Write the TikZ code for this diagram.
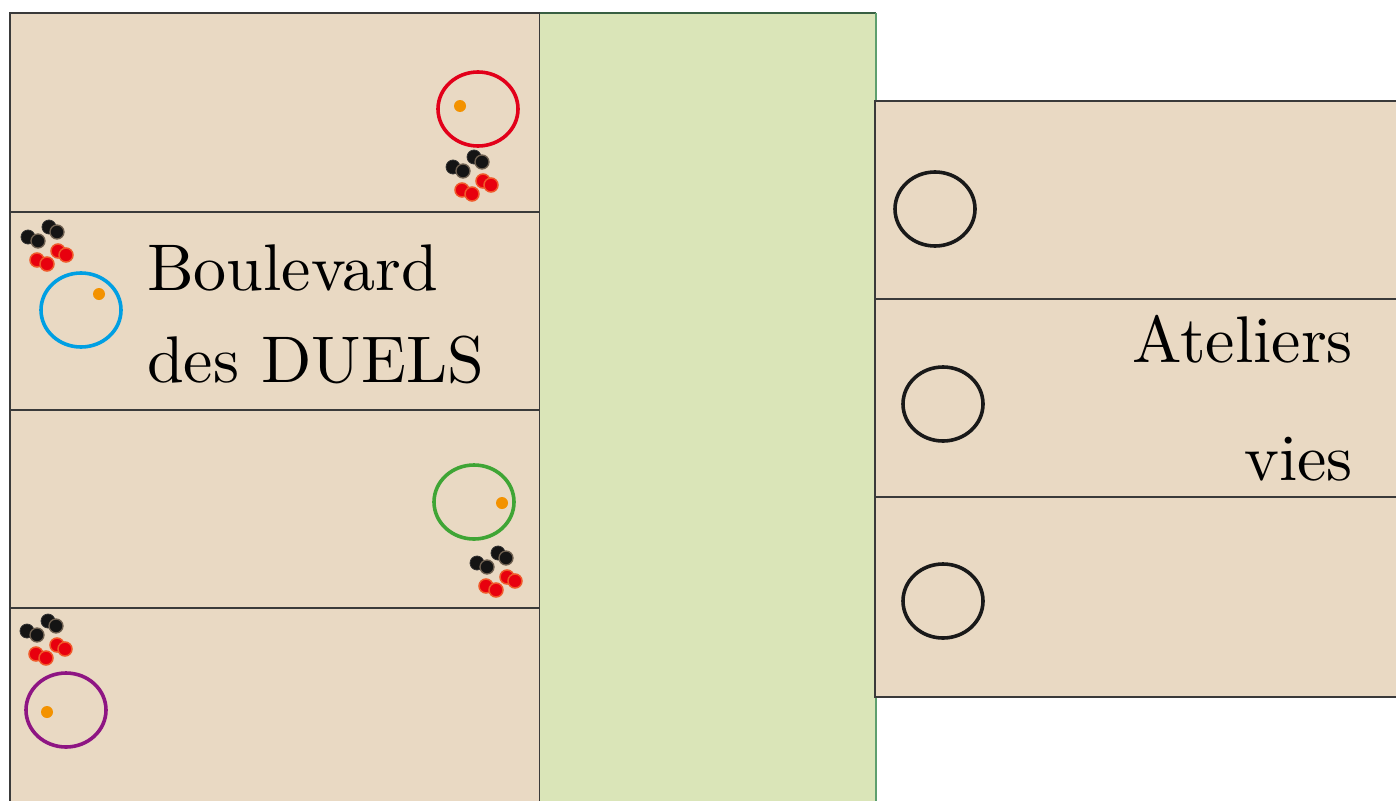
\documentclass[tikz,border=0pt]{standalone}
\usepackage{fontspec}
\newfontfamily\lmten{lmroman10-regular.otf}
\definecolor{beige}{HTML}{E9D9C3}
\definecolor{lawn}{HTML}{DAE5B8}
\definecolor{lawnedge}{HTML}{5E9F6E}
\definecolor{edgegray}{HTML}{3A3A3A}
\definecolor{cred}{HTML}{E2001A}
\definecolor{cblue}{HTML}{009FE3}
\definecolor{cgreen}{HTML}{3FA535}
\definecolor{cpurple}{HTML}{8E1583}
\definecolor{corange}{HTML}{F39200}
\definecolor{ballred}{HTML}{E8000E}
\definecolor{ballrim}{HTML}{F0582A}
\definecolor{blackrim}{HTML}{6E6050}
\tikzset{
  plot/.style={fill=beige, draw=edgegray, line width=1.3pt},
  ring/.style={line width=3.6pt},
  jack/.style={fill=corange, draw=none},
  blackball/.style={fill=black!92, draw=blackrim, line width=1.3pt},
  blackback/.style={fill=black!92, draw=black!80, line width=0.8pt},
  redball/.style={fill=ballred, draw=ballrim, line width=1.5pt},
  label/.style={inner sep=0pt, font=\lmten\fontsize{66}{80}\selectfont},
  pics/boules/.style={code={
    \draw[blackback] (0,0) circle (7);
    \draw[blackball] (10,4) circle (7);
    \draw[blackback] (21,-10) circle (7);
    \draw[blackball] (29,-5) circle (7);
    \draw[redball] (9,23) circle (7);
    \draw[redball] (19,27) circle (7);
    \draw[redball] (30,14) circle (7);
    \draw[redball] (38,18) circle (7);
  }}
}
\begin{document}
\begin{tikzpicture}[x=1pt,y=-1pt]
\useasboundingbox (0,0) rectangle (1396,800);
% left plots
\draw[plot] (10,13) rectangle (540,212);
\draw[plot] (10,212) rectangle (540,410);
\draw[plot] (10,410) rectangle (540,608);
\draw[plot] (10,608) rectangle (540,810);
% green strip
\fill[lawn] (540,13) rectangle (876,810);
\draw[lawnedge!60!black, line width=1.3pt] (540,13) -- (876,13);
\draw[lawnedge, line width=2.5pt] (876,13) -- (876,810);
% right plots
\draw[plot] (875,101) rectangle (1410,299);
\draw[plot] (875,299) rectangle (1410,497);
\draw[plot] (875,497) rectangle (1410,697);
% circles and jacks
\draw[ring, cred] (478,109) ellipse [x radius=40, y radius=37];
\fill[jack] (460,106) circle (6);
\draw[ring, cblue] (81,310) ellipse [x radius=40, y radius=37];
\fill[jack] (99,294) circle (6);
\draw[ring, cgreen] (474,502) ellipse [x radius=40, y radius=37];
\fill[jack] (502,503) circle (6);
\draw[ring, cpurple] (66,710) ellipse [x radius=40, y radius=37];
\fill[jack] (47,712) circle (6);
\draw[ring, black!90] (935,209) ellipse [x radius=40, y radius=37];
\draw[ring, black!90] (943,404) ellipse [x radius=40, y radius=37];
\draw[ring, black!90] (943,601) ellipse [x radius=40, y radius=37];
% boules
\pic at (453,167) {boules};
\pic at (28,237) {boules};
\pic at (477,563) {boules};
\pic at (27,631) {boules};
% labels
\node[label, anchor=base west] (bd1) at (147,290) {Boulevard};
\node[label, anchor=base west] (bd2) at (147,382) {des DUELS};
\node[label, anchor=base east] (at1) at (1353,362) {Ateliers};
\node[label, anchor=base east] (at2) at (1353,480) {vies};
\end{tikzpicture}
\end{document}
